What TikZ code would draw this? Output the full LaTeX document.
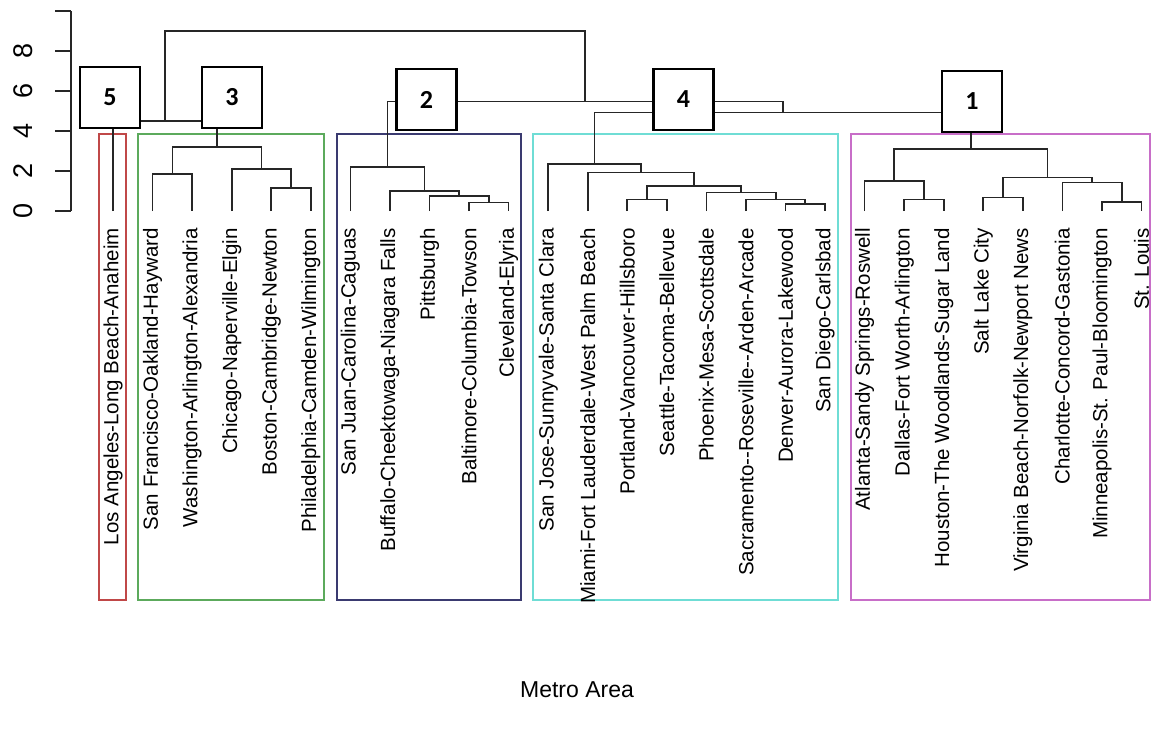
\documentclass[tikz,border=0pt]{standalone}
\usepackage{fontspec}
\setmainfont{Liberation Sans}
\newfontfamily\numfont{Carlito}
\usepackage{tikz}
\usetikzlibrary{positioning}

\definecolor{kred}{HTML}{C04848}
\definecolor{kgreen}{HTML}{5CAA5C}
\definecolor{kblue}{HTML}{3A3A70}
\definecolor{kcyan}{HTML}{6FDDD5}
\definecolor{kmag}{HTML}{C86EC8}

\begin{document}
\begin{tikzpicture}[x=1pt, y=20pt,
	tree/.style={draw=black!85, line width=1.7pt},
	grp/.style={line width=1.6pt},
	city/.style={rotate=90, anchor=east, inner sep=0pt, font=\fontsize{20.5}{24}\selectfont},
	tick/.style={rotate=90, inner sep=0pt, font=\fontsize{27}{30}\selectfont},
	numbox/.style={draw, line width=2.2pt, fill=white, minimum width=60pt,
		minimum height=61pt, font=\numfont\bfseries\fontsize{26}{30}\selectfont}]
	\useasboundingbox (0,10.55) rectangle (1151,-25.9);
	% cluster frames
	\draw [grp, kred] (99,3.85) rectangle (126,-19.45);
	\draw [grp, kgreen] (138,3.85) rectangle (324,-19.45);
	\draw [grp, kblue] (337,3.85) rectangle (521,-19.45);
	\draw [grp, kcyan] (533,3.85) rectangle (838,-19.45);
	\draw [grp, kmag] (851,3.85) rectangle (1150,-19.45);
	% axis
	\draw [tree] (71,0) -- (71,10);
	\draw [tree] (55,0) -- (71,0);
	\draw [tree] (55,2) -- (71,2);
	\draw [tree] (55,4) -- (71,4);
	\draw [tree] (55,6) -- (71,6);
	\draw [tree] (55,8) -- (71,8);
	\draw [tree] (55,10) -- (71,10);
	\node [tick] (tk0) at (23,0) {0};
	\node [tick] (tk2) at (23,2) {2};
	\node [tick] (tk4) at (23,4) {4};
	\node [tick] (tk6) at (23,6) {6};
	\node [tick] (tk8) at (23,8) {8};
	% leaves
	\coordinate (l0) at (113,0);
	\coordinate (l1) at (152.6,0);
	\coordinate (l2) at (192.1,0);
	\coordinate (l3) at (231.7,0);
	\coordinate (l4) at (271.2,0);
	\coordinate (l5) at (310.8,0);
	\coordinate (l6) at (350.4,0);
	\coordinate (l7) at (389.9,0);
	\coordinate (l8) at (429.5,0);
	\coordinate (l9) at (469.0,0);
	\coordinate (l10) at (508.6,0);
	\coordinate (l11) at (548.2,0);
	\coordinate (l12) at (587.7,0);
	\coordinate (l13) at (627.3,0);
	\coordinate (l14) at (666.8,0);
	\coordinate (l15) at (706.4,0);
	\coordinate (l16) at (746.0,0);
	\coordinate (l17) at (785.5,0);
	\coordinate (l18) at (825.1,0);
	\coordinate (l19) at (864.6,0);
	\coordinate (l20) at (904.2,0);
	\coordinate (l21) at (943.8,0);
	\coordinate (l22) at (983.3,0);
	\coordinate (l23) at (1022.9,0);
	\coordinate (l24) at (1062.4,0);
	\coordinate (l25) at (1102.0,0);
	\coordinate (l26) at (1141.6,0);
	\begin{scope}
	\clip (0,-0.5) rectangle (1151,-19.65);
	\node [city] (t0) at (113,-0.85) {Los Angeles-Long Beach-Anaheim};
	\node [city] (t1) at (152.6,-0.85) {San Francisco-Oakland-Hayward};
	\node [city] (t2) at (192.1,-0.85) {Washington-Arlington-Alexandria};
	\node [city] (t3) at (231.7,-0.85) {Chicago-Naperville-Elgin};
	\node [city] (t4) at (271.2,-0.85) {Boston-Cambridge-Newton};
	\node [city] (t5) at (310.8,-0.85) {Philadelphia-Camden-Wilmington};
	\node [city] (t6) at (350.4,-0.85) {San Juan-Carolina-Caguas};
	\node [city] (t7) at (389.9,-0.85) {Buffalo-Cheektowaga-Niagara Falls};
	\node [city] (t8) at (429.5,-0.85) {Pittsburgh};
	\node [city] (t9) at (469.0,-0.85) {Baltimore-Columbia-Towson};
	\node [city] (t10) at (508.6,-0.85) {Cleveland-Elyria};
	\node [city] (t11) at (548.2,-0.85) {San Jose-Sunnyvale-Santa Clara};
	\node [city] (t12) at (587.7,-0.85) {Miami-Fort Lauderdale-West Palm Beach};
	\node [city] (t13) at (627.3,-0.85) {Portland-Vancouver-Hillsboro};
	\node [city] (t14) at (666.8,-0.85) {Seattle-Tacoma-Bellevue};
	\node [city] (t15) at (706.4,-0.85) {Phoenix-Mesa-Scottsdale};
	\node [city] (t16) at (746.0,-0.85) {Sacramento-{}-Roseville-{}-Arden-Arcade};
	\node [city] (t17) at (785.5,-0.85) {Denver-Aurora-Lakewood};
	\node [city] (t18) at (825.1,-0.85) {San Diego-Carlsbad};
	\node [city] (t19) at (864.6,-0.85) {Atlanta-Sandy Springs-Roswell};
	\node [city] (t20) at (904.2,-0.85) {Dallas-Fort Worth-Arlington};
	\node [city] (t21) at (943.8,-0.85) {Houston-The Woodlands-Sugar Land};
	\node [city] (t22) at (983.3,-0.85) {Salt Lake City};
	\node [city] (t23) at (1022.9,-0.85) {Virginia Beach-Norfolk-Newport News};
	\node [city] (t24) at (1062.4,-0.85) {Charlotte-Concord-Gastonia};
	\node [city] (t25) at (1102.0,-0.85) {Minneapolis-St. Paul-Bloomington};
	\node [city] (t26) at (1141.6,-0.85) {St. Louis};
	\end{scope}
	% merges
	\coordinate (a) at (172.4,1.85);
	\coordinate (b) at (291,1.15);
	\coordinate (c) at (261.4,2.1);
	\coordinate (d) at (216.9,3.2);
	\coordinate (e) at (165,4.5);
	\coordinate (f) at (488.8,0.42);
	\coordinate (g) at (459.1,0.75);
	\coordinate (h) at (424.5,1.0);
	\coordinate (i) at (387.4,2.2);
	\coordinate (j) at (805.3,0.35);
	\coordinate (k) at (775.7,0.58);
	\coordinate (m) at (741,0.92);
	\coordinate (n) at (647,0.58);
	\coordinate (o) at (694,1.25);
	\coordinate (p) at (640.9,1.92);
	\coordinate (q) at (594.5,2.35);
	\coordinate (r) at (924,0.58);
	\coordinate (s) at (894.3,1.5);
	\coordinate (t) at (1003.1,0.67);
	\coordinate (u) at (1121.8,0.44);
	\coordinate (v) at (1092.1,1.42);
	\coordinate (w) at (1047.6,1.67);
	\coordinate (z) at (971,3.1);
	\coordinate (y1) at (782.7,4.93);
	\coordinate (y2) at (585,5.47);
	\coordinate (top) at (374.5,9.0);
	\draw [tree] (l1) |- (a) -| (l2);
	\draw [tree] (l4) |- (b) -| (l5);
	\draw [tree] (l3) |- (c) -| (b);
	\draw [tree] (a) |- (d) -| (c);
	\draw [tree] (l0) |- (e) -| (d);
	\draw [tree] (l9) |- (f) -| (l10);
	\draw [tree] (l8) |- (g) -| (f);
	\draw [tree] (l7) |- (h) -| (g);
	\draw [tree] (l6) |- (i) -| (h);
	\draw [tree] (l17) |- (j) -| (l18);
	\draw [tree] (l16) |- (k) -| (j);
	\draw [tree] (l15) |- (m) -| (k);
	\draw [tree] (l13) |- (n) -| (l14);
	\draw [tree] (n) |- (o) -| (m);
	\draw [tree] (l12) |- (p) -| (o);
	\draw [tree] (l11) |- (q) -| (p);
	\draw [tree] (l20) |- (r) -| (l21);
	\draw [tree] (l19) |- (s) -| (r);
	\draw [tree] (l22) |- (t) -| (l23);
	\draw [tree] (l25) |- (u) -| (l26);
	\draw [tree] (l24) |- (v) -| (u);
	\draw [tree] (t) |- (w) -| (v);
	\draw [tree] (s) |- (z) -| (w);
	\draw [tree] (q) |- (y1) -| (z);
	\draw [tree] (i) |- (y2) -| (y1);
	\draw [tree] (e) |- (top) -| (y2);
	% cluster numbers
	\node [numbox] (n5) at (110,5.675) {5};
	\node [numbox] (n3) at (232,5.675) {3};
	\node [numbox] (n2) at (426.5,5.575) {2};
	\node [numbox] (n4) at (683.5,5.575) {4};
	\node [numbox] (n1) at (972,5.475) {1};
	\node [font=\fontsize{23}{28}\selectfont] (xlab) at (577,-23.95) {Metro Area};
\end{tikzpicture}
\end{document}
